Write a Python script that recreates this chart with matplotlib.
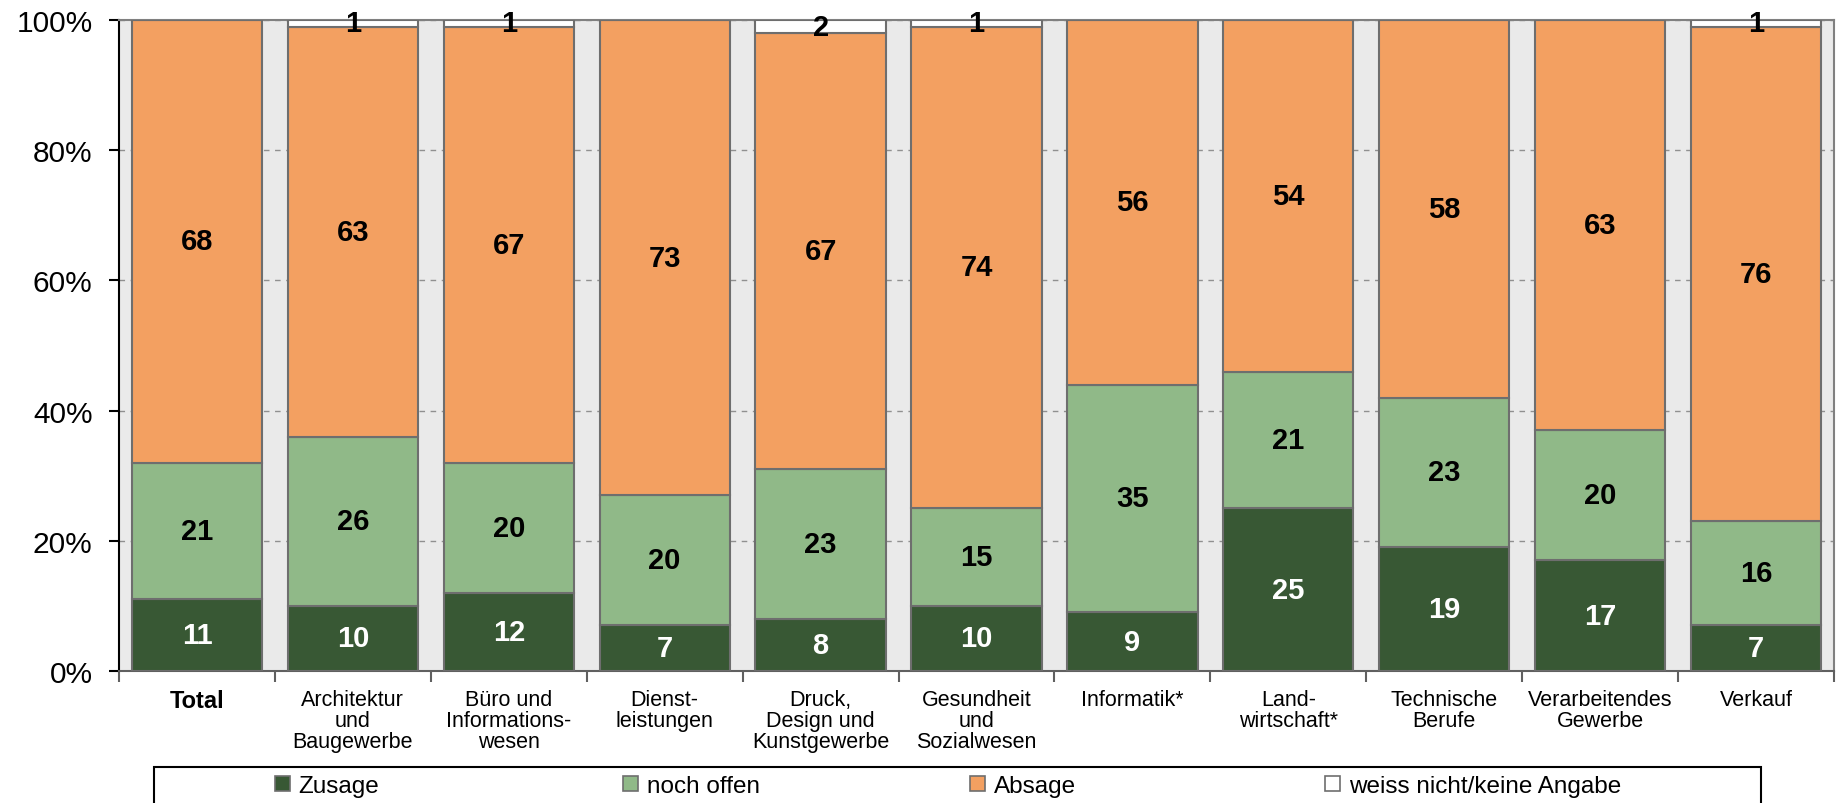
import matplotlib
matplotlib.use('Agg')
import matplotlib.pyplot as plt
from matplotlib.patches import Patch, Rectangle
from matplotlib.ticker import PercentFormatter
import numpy as np

plt.rcParams['font.family'] = ['Liberation Sans', 'DejaVu Sans']

# Daten (Prozent)
categories = ['Total', 'Architektur\nund\nBaugewerbe', 'Büro und\nInformations-\nwesen',
              'Dienst-\nleistungen', 'Druck,\nDesign und\nKunstgewerbe',
              'Gesundheit\nund\nSozialwesen', 'Informatik*', 'Land-\nwirtschaft*',
              'Technische\nBerufe', 'Verarbeitendes\nGewerbe', 'Verkauf']
zusage = [11, 10, 12, 7, 8, 10, 9, 25, 19, 17, 7]
noch_offen = [21, 26, 20, 20, 23, 15, 35, 21, 23, 20, 16]
absage = [68, 63, 67, 73, 67, 74, 56, 54, 58, 63, 76]
weiss_nicht = [0, 1, 1, 0, 2, 1, 0, 0, 0, 0, 1]

series_names = ['Zusage', 'noch offen', 'Absage', 'weiss nicht/keine Angabe']
series_colors = ['#385834', '#90B988', '#F3A061', '#FFFFFF']
label_colors = ['white', 'black', 'black', 'black']
edge_col = '#6E6E6E'

W, H = 1843, 804
fig = plt.figure(figsize=(W / 100, H / 100), dpi=100)
ax = fig.add_axes([119 / W, 1 - 672 / H, (1834 - 119) / W, (672 - 21) / H])
ax.set_facecolor('#EAEAEA')

x = np.arange(len(categories))
bottom = np.zeros(len(categories))
for vals, name, col, lcol in zip([zusage, noch_offen, absage, weiss_nicht],
                                 series_names, series_colors, label_colors):
    vals = np.array(vals, dtype=float)
    ax.bar(x, vals, 0.835, bottom=bottom, color=col, edgecolor=edge_col,
           linewidth=1.5, zorder=3, label=name)
    for xi, v, b in zip(x, vals, bottom):
        if v > 0:
            ax.text(xi, b + v / 2, f'{int(v)}', ha='center', va='center',
                    fontsize=21, fontweight='bold', color=lcol, zorder=5)
    bottom += vals

ax.set_xlim(-0.5, len(categories) - 0.5)
ax.set_ylim(0, 100)

# Y-Achse
ax.set_yticks([0, 20, 40, 60, 80, 100])
ax.yaxis.set_major_formatter(PercentFormatter(decimals=0))
ax.tick_params(axis='y', labelsize=21.5, length=7, width=1.5, pad=12, color='black')
ax.grid(axis='y', color='#909090', linestyle=(0, (4, 4)), linewidth=1, zorder=1)

# X-Achse
ax.set_xticks(x)
ax.set_xticklabels(categories, fontsize=15.5, linespacing=1.0, va='top')
ax.set_xticks(np.arange(-0.5, len(categories), 1), minor=True)
ax.tick_params(axis='x', which='major', length=0, pad=13)
ax.tick_params(axis='x', which='minor', length=8, width=1.5, color='#606060')
lbl = ax.get_xticklabels()[0]
lbl.set_fontweight('bold')
lbl.set_fontsize(17)

ax.spines['left'].set_color('black')
ax.spines['left'].set_linewidth(1.5)
ax.spines['bottom'].set_color('#606060')
ax.spines['bottom'].set_linewidth(1.5)
for s in ['top', 'right']:
    ax.spines[s].set_color('#808080')
    ax.spines[s].set_linewidth(1.5)
ax.set_axisbelow(True)

# Legende: Rahmen + vier Einträge an festen Positionen
fig.patches.append(Rectangle((154 / W, -0.1), (1761 - 154) / W, 0.1 + 1 - 768 / H,
                             transform=fig.transFigure, fill=False,
                             edgecolor='black', linewidth=1.5))
leg_x = [275, 623, 970, 1325]
for name, col, lx in zip(series_names, series_colors, leg_x):
    h = Patch(facecolor=col, edgecolor=edge_col, linewidth=1.2)
    fig.legend(handles=[h], labels=[name], loc='center left',
               bbox_to_anchor=(lx / W, 1 - 787 / H), frameon=False,
               fontsize=17.5, handlelength=0.62, handleheight=0.62,
               handletextpad=0.35, borderpad=0, borderaxespad=0)

fig.savefig('out.png', dpi=100, facecolor='white')
